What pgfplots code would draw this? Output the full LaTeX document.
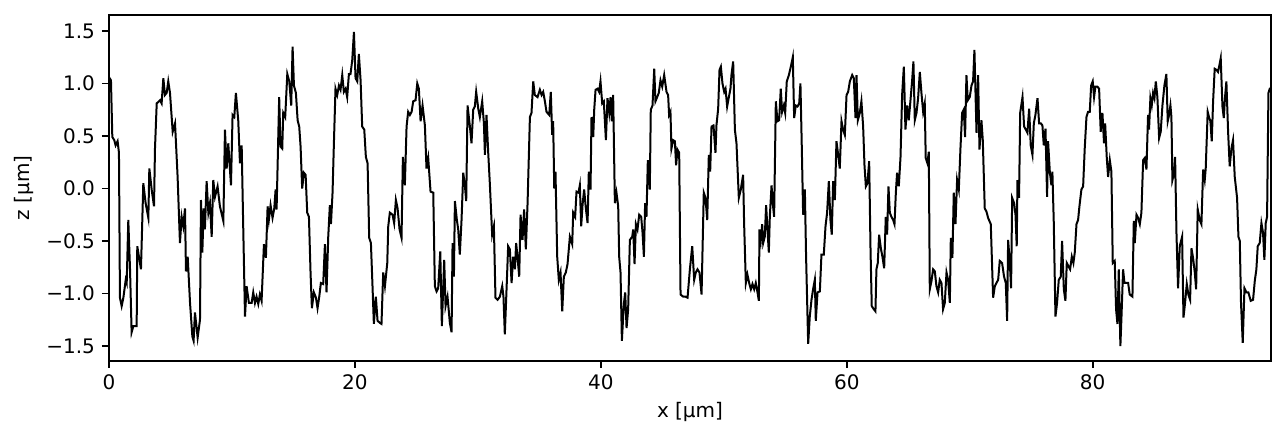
\documentclass[border=0pt]{standalone}
\usepackage{fontspec}
\setmainfont{DejaVu Sans}
\usepackage{pgfplots}
\pgfplotsset{compat=1.18}
\begin{document}
\fontsize{10}{12}\selectfont
\begin{tikzpicture}
\begin{axis}[
  name=ax,
  scale only axis,
  width=581pt, height=173pt,
  xmin=0, xmax=94.5, ymin=-1.643, ymax=1.652,
  xtick={0,20,40,60,80},
  xticklabels={0,20,40,60,80},
  ytick={-1.5,-1,-0.5,0,0.5,1,1.5},
  yticklabels={−1.5,−1.0,−0.5,0.0,0.5,1.0,1.5},
  xtick pos=bottom, ytick pos=left,
  tick align=outside,
  major tick length=3.5pt,
  tick style={line width=0.8pt, black},
  axis line style={line width=0.8pt},
  xlabel={x [µm]}, ylabel={z [µm]},
  xlabel style={at={(axis description cs:0.5,-0.147)}, anchor=center},
  ylabel style={at={(axis description cs:-0.0731,0.5)}, rotate=0, anchor=center},
  every axis y label/.append style={},
  clip=true,
]
\addplot[black, line width=1pt] coordinates {
(0,1.06)(0.16,1.03)(0.27,0.49)(0.43,0.46)(0.54,0.41)(0.70,0.45)(0.81,0.34)(0.89,-1.04)(1.03,-1.12)(1.17,-1.04)(1.36,-0.87)(1.44,-0.90)(1.57,-0.30)(1.71,-0.77)(1.84,-1.37)(1.98,-1.31)(2.25,-1.31)(2.30,-0.55)(2.60,-0.77)(2.79,0.05)(2.98,-0.14)(3.20,-0.28)(3.28,0.19)(3.47,-0.01)(3.66,-0.17)(3.74,0.38)(3.88,0.81)(4.15,0.84)(4.28,0.81)(4.42,1.05)(4.55,0.89)(4.69,0.91)(4.82,1.02)(4.96,0.91)(5.18,0.54)(5.37,0.62)(5.58,0.11)(5.77,-0.52)(5.91,-0.27)(6.04,-0.36)(6.18,-0.19)(6.26,-0.79)(6.40,-0.65)(6.59,-1.09)(6.78,-1.41)(6.88,-1.45)(6.99,-1.18)(7.21,-1.42)(7.40,-1.25)(7.48,-0.11)(7.59,-0.61)(7.70,-0.19)(7.80,-0.39)(7.94,0.07)(8.08,-0.23)(8.21,-0.14)(8.35,-0.46)(8.48,0.08)(8.62,-0.08)(8.83,0.02)(9.02,-0.17)(9.30,-0.31)(9.43,0.56)(9.57,0.19)(9.70,0.43)(9.92,0.03)(10.05,0.70)(10.19,0.68)(10.32,0.91)(10.51,0.65)(10.65,0.24)(10.79,0.41)(10.92,-0.39)(11.06,-1.22)(11.19,-0.93)(11.38,-1.09)(11.60,-1.09)(11.73,-0.99)(11.87,-1.09)(12.00,-1.03)(12.14,-1.10)(12.27,-1.01)(12.41,-1.07)(12.60,-0.53)(12.76,-0.66)(12.90,-0.17)(13.00,-0.30)(13.14,-0.16)(13.30,-0.28)(13.44,-0.19)(13.55,-0.01)(13.63,-0.20)(13.84,0.87)(13.95,0.40)(14.09,0.38)(14.17,0.72)(14.33,0.68)(14.50,1.09)(14.66,1.02)(14.82,0.79)(14.93,1.35)(15.04,0.98)(15.20,0.91)(15.34,0.65)(15.47,0.59)(15.58,0.40)(15.71,0.00)(15.85,0.15)(15.99,0.13)(16.12,-0.23)(16.26,-0.27)(16.39,-0.80)(16.50,-1.14)(16.66,-0.99)(16.83,-1.04)(16.96,-1.14)(17.10,-1.03)(17.23,-0.90)(17.42,-0.91)(17.56,-0.53)(17.69,-0.99)(17.83,-0.46)(17.96,-0.16)(18.05,-0.34)(18.18,-0.04)(18.29,0.43)(18.42,0.95)(18.56,0.89)(18.70,0.98)(18.83,0.94)(18.97,1.08)(19.10,0.92)(19.24,0.95)(19.37,0.87)(19.51,1.09)(19.64,1.09)(19.78,1.22)(19.92,1.49)(20.05,1.05)(20.19,1.02)(20.32,1.28)(20.46,1.03)(20.59,0.59)(20.76,0.56)(20.89,0.30)(21.03,0.24)(21.16,-0.47)(21.30,-0.52)(21.43,-0.93)(21.54,-1.29)(21.70,-1.03)(21.84,-1.26)(22.03,-1.28)(22.16,-1.29)(22.30,-0.80)(22.44,-0.93)(22.63,-0.71)(22.71,-0.36)(22.84,-0.23)(23.06,-0.25)(23.19,-0.33)(23.33,-0.11)(23.47,-0.19)(23.63,-0.39)(23.79,-0.47)(23.90,0.30)(24.06,0.03)(24.20,0.59)(24.33,0.73)(24.47,0.70)(24.61,0.73)(24.74,0.83)(24.93,0.84)(25.07,1.00)(25.20,0.95)(25.34,0.64)(25.50,0.79)(25.69,0.60)(25.82,0.19)(25.96,0.29)(26.15,-0.03)(26.37,-0.04)(26.50,-0.93)(26.64,-0.98)(26.77,-0.95)(26.94,-0.60)(27.07,-1.31)(27.26,-0.68)(27.37,-1.12)(27.53,-1.03)(27.72,-1.28)(27.86,-1.37)(27.94,-0.52)(28.05,-0.84)(28.13,-0.12)(28.29,-0.30)(28.40,-0.39)(28.53,-0.63)(28.67,-0.30)(28.81,0.15)(28.94,0.03)(29.05,-0.12)(29.16,0.79)(29.35,0.59)(29.48,0.43)(29.62,0.75)(29.75,0.78)(29.86,0.92)(30.03,0.76)(30.16,0.68)(30.35,0.83)(30.49,0.62)(30.57,0.32)(30.70,0.70)(30.84,0.34)(30.97,0.05)(31.16,-0.44)(31.30,-0.36)(31.43,-1.04)(31.60,-1.06)(31.79,-1.03)(31.98,-0.93)(32.08,-1.03)(32.19,-1.39)(32.33,-0.96)(32.46,-0.55)(32.60,-0.58)(32.74,-0.90)(32.87,-0.65)(33.01,-0.77)(33.11,-0.52)(33.22,-0.65)(33.36,-0.84)(33.47,-0.25)(33.63,-0.49)(33.76,-0.20)(33.90,-0.58)(34.04,-0.14)(34.23,0.68)(34.36,0.72)(34.50,1.02)(34.63,0.89)(34.85,0.87)(35.04,0.94)(35.18,0.89)(35.31,0.92)(35.45,0.83)(35.58,0.73)(35.80,0.70)(35.93,0.92)(36.04,0.51)(36.12,0.64)(36.21,0.00)(36.31,0.16)(36.45,-0.65)(36.58,-0.87)(36.72,-0.80)(36.86,-1.17)(36.99,-0.84)(37.15,-0.80)(37.29,-0.72)(37.48,-0.46)(37.67,-0.53)(37.75,-0.23)(37.91,-0.27)(38.02,-0.03)(38.18,-0.04)(38.29,0.03)(38.40,-0.36)(38.51,-0.16)(38.64,-0.01)(38.78,-0.19)(38.92,-0.33)(39.02,0.16)(39.16,-0.01)(39.24,0.68)(39.38,0.49)(39.46,0.75)(39.57,0.94)(39.73,0.95)(39.86,0.92)(39.97,1.02)(40.11,0.81)(40.24,0.83)(40.41,0.46)(40.54,0.86)(40.68,0.72)(40.79,0.87)(40.89,0.64)(41.00,0.89)(41.14,-0.14)(41.27,-0.04)(41.41,-0.17)(41.49,-0.65)(41.60,-0.80)(41.71,-1.45)(41.87,-1.10)(41.98,-0.99)(42.09,-1.33)(42.22,-1.15)(42.36,-0.49)(42.55,-0.46)(42.63,-0.39)(42.74,-0.72)(42.85,-0.34)(42.98,-0.39)(43.12,-0.25)(43.28,-0.27)(43.39,-0.42)(43.50,-0.65)(43.60,-0.14)(43.71,-0.27)(43.82,0.27)(43.98,-0.01)(44.06,0.75)(44.20,0.79)(44.34,1.14)(44.44,0.83)(44.58,0.87)(44.71,0.91)(44.85,1.03)(44.99,0.97)(45.15,1.08)(45.34,0.92)(45.47,0.89)(45.55,0.70)(45.66,0.73)(45.74,0.38)(45.88,0.46)(46.02,0.45)(46.12,0.22)(46.23,0.37)(46.37,0.34)(46.48,-1.01)(46.69,-1.03)(46.88,-1.03)(47.05,-1.04)(47.24,-0.77)(47.43,-0.55)(47.59,-0.87)(47.72,-0.80)(47.86,-0.77)(48.02,-0.80)(48.19,-1.01)(48.37,-0.04)(48.51,-0.09)(48.65,-0.30)(48.78,0.32)(48.89,0.16)(49.00,0.59)(49.16,0.60)(49.32,0.34)(49.40,0.60)(49.54,0.76)(49.65,1.13)(49.76,1.16)(49.89,1.00)(50.03,0.92)(50.14,0.95)(50.27,0.78)(50.41,0.87)(50.54,0.95)(50.62,1.08)(50.76,1.21)(50.90,0.56)(51.03,0.43)(51.22,-0.09)(51.38,-0.01)(51.57,0.13)(51.65,-0.33)(51.79,-0.90)(51.92,-0.82)(52.06,-0.90)(52.20,-0.96)(52.33,-0.91)(52.47,-0.96)(52.60,-0.90)(52.74,-0.99)(52.85,-1.07)(52.90,-0.39)(53.01,-0.49)(53.12,-0.34)(53.20,-0.52)(53.33,-0.46)(53.44,-0.16)(53.55,-0.39)(53.66,-0.61)(53.74,-0.27)(53.88,0.03)(53.98,-0.14)(54.09,-0.27)(54.23,0.83)(54.36,0.64)(54.50,0.65)(54.63,0.95)(54.74,0.73)(54.88,0.79)(54.99,0.72)(55.12,1.02)(55.29,1.08)(55.45,1.16)(55.61,1.25)(55.72,0.67)(55.85,0.79)(55.99,0.78)(56.13,0.81)(56.23,1.00)(56.34,0.40)(56.45,-0.25)(56.59,-0.01)(56.69,-0.65)(56.86,-1.48)(56.99,-1.22)(57.13,-1.06)(57.26,-0.96)(57.40,-0.87)(57.48,-1.26)(57.62,-0.99)(57.81,-0.98)(57.94,-0.63)(58.13,-0.63)(58.27,-0.36)(58.40,-0.23)(58.54,0.07)(58.67,-0.30)(58.78,-0.44)(58.89,0.07)(59.03,-0.11)(59.16,0.45)(59.30,0.32)(59.43,0.19)(59.57,0.64)(59.70,0.56)(59.84,0.51)(59.98,0.89)(60.11,0.92)(60.25,1.02)(60.44,1.08)(60.57,1.05)(60.71,0.67)(60.79,1.08)(60.90,0.65)(61.06,0.72)(61.19,0.83)(61.33,0.59)(61.44,0.22)(61.55,0.02)(61.68,0.05)(61.82,0.26)(61.93,-0.58)(62.03,-1.12)(62.20,-1.15)(62.33,-1.17)(62.41,-0.77)(62.52,-0.71)(62.63,-0.44)(62.77,-0.57)(62.90,-0.65)(63.04,-0.76)(63.17,-0.27)(63.28,-0.44)(63.39,0.02)(63.50,-0.23)(63.63,-0.27)(63.77,-0.30)(63.88,-0.34)(63.99,-0.04)(64.09,0.15)(64.23,0.02)(64.37,0.30)(64.50,0.89)(64.64,1.16)(64.77,0.56)(64.91,0.79)(65.04,0.65)(65.18,0.84)(65.31,1.02)(65.42,1.21)(65.53,0.65)(65.67,0.72)(65.80,0.86)(65.94,1.11)(66.07,0.91)(66.21,0.73)(66.34,0.81)(66.42,0.29)(66.56,0.24)(66.67,0.35)(66.75,-0.96)(66.89,-0.88)(67.02,-0.77)(67.16,-0.79)(67.29,-0.93)(67.43,-0.99)(67.56,-0.87)(67.70,-0.90)(67.83,-1.15)(67.97,-1.09)(68.11,-0.80)(68.24,-0.87)(68.38,-1.09)(68.46,-0.47)(68.59,-0.66)(68.70,-0.04)(68.84,-0.34)(68.97,0.08)(69.11,-0.01)(69.24,0.37)(69.38,0.72)(69.51,0.75)(69.62,0.49)(69.73,1.08)(69.84,0.84)(70.00,0.87)(70.14,0.98)(70.27,1.02)(70.38,1.32)(70.55,0.53)(70.68,1.08)(70.79,0.37)(70.95,0.65)(71.06,0.46)(71.22,-0.19)(71.36,-0.22)(71.49,-0.28)(71.71,-0.34)(71.90,-1.04)(72.04,-0.93)(72.17,-0.90)(72.31,-0.87)(72.44,-0.69)(72.63,-0.71)(72.79,-0.84)(72.93,-0.90)(73.04,-1.26)(73.12,-0.49)(73.26,-0.71)(73.36,-0.95)(73.45,-0.09)(73.61,-0.14)(73.72,-0.25)(73.82,-0.55)(73.88,0.08)(74.01,-0.09)(74.10,0.72)(74.29,0.87)(74.42,0.59)(74.56,0.56)(74.69,0.53)(74.83,0.76)(74.96,0.41)(75.10,0.32)(75.21,0.62)(75.34,0.70)(75.51,0.86)(75.64,0.62)(75.78,0.62)(75.91,0.60)(76.02,0.41)(76.16,0.57)(76.29,-0.08)(76.37,0.45)(76.51,0.16)(76.64,0.03)(76.72,0.16)(76.83,-0.31)(76.97,-1.22)(77.10,-1.09)(77.24,-0.87)(77.40,-0.84)(77.51,-0.50)(77.65,-0.96)(77.78,-1.07)(77.89,-0.71)(78.02,-0.74)(78.16,-0.77)(78.30,-0.65)(78.43,-0.71)(78.54,-0.61)(78.68,-0.34)(78.81,-0.30)(78.92,-0.17)(79.08,-0.01)(79.22,0.02)(79.35,0.38)(79.49,0.68)(79.62,0.73)(79.76,0.73)(79.87,0.98)(80.00,1.02)(80.11,0.87)(80.22,0.97)(80.38,0.97)(80.52,0.95)(80.65,0.54)(80.79,0.72)(80.92,0.43)(81.01,0.62)(81.14,0.30)(81.25,0.11)(81.39,0.27)(81.52,0.16)(81.63,-0.71)(81.79,-0.69)(81.90,-1.15)(82.01,-1.29)(82.12,-0.77)(82.25,-1.50)(82.34,-1.22)(82.47,-0.77)(82.58,-0.90)(82.74,-0.90)(82.88,-0.90)(83.01,-1.01)(83.23,-1.03)(83.34,-0.31)(83.42,-0.52)(83.56,-0.25)(83.69,-0.28)(83.83,-0.34)(83.96,-0.23)(84.10,0.27)(84.23,0.29)(84.37,0.18)(84.50,0.70)(84.58,0.56)(84.69,0.86)(84.80,0.79)(84.91,0.91)(85.02,0.86)(85.13,1.02)(85.26,0.87)(85.40,0.48)(85.53,0.54)(85.67,0.79)(85.83,0.98)(85.99,1.09)(86.10,0.64)(86.21,0.70)(86.32,0.79)(86.40,0.68)(86.48,0.08)(86.62,0.15)(86.70,0.30)(86.81,-0.42)(86.94,-0.95)(87.08,-0.55)(87.27,-0.46)(87.38,-1.23)(87.51,-1.09)(87.65,-0.91)(87.78,-1.01)(87.92,-1.06)(88.03,-0.57)(88.16,-0.66)(88.30,-0.80)(88.41,-0.96)(88.54,-0.20)(88.70,-0.30)(88.84,-0.34)(88.98,0.18)(89.11,0.08)(89.19,0.19)(89.35,0.73)(89.46,0.68)(89.57,0.64)(89.68,0.45)(89.79,0.83)(89.92,1.14)(90.06,1.13)(90.19,1.11)(90.28,1.16)(90.41,1.24)(90.55,0.78)(90.66,0.67)(90.76,0.87)(90.87,1.02)(91.01,0.54)(91.14,0.21)(91.28,0.38)(91.41,0.46)(91.55,0.11)(91.74,-0.09)(91.85,-0.46)(91.96,-0.50)(92.06,-1.09)(92.20,-1.47)(92.34,-0.95)(92.50,-0.99)(92.66,-0.99)(92.85,-1.07)(93.04,-1.06)(93.18,-0.88)(93.31,-0.77)(93.42,-0.55)(93.58,-0.52)(93.72,-0.33)(93.85,-0.42)(93.96,-0.68)(94.07,-0.33)(94.18,-0.27)(94.29,0.91)(94.40,0.95)(94.5,0.95)
};
\end{axis}
\path ([xshift=-54.5pt,yshift=-39pt]ax.south west) rectangle ([xshift=7.5pt,yshift=7.5pt]ax.north east);
\end{tikzpicture}
\end{document}
